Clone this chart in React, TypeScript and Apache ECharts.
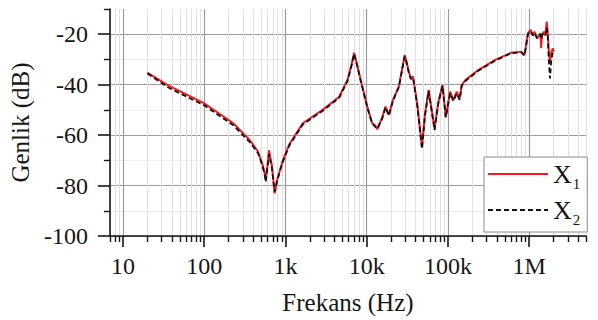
import React, { useEffect, useRef } from "react";
import * as echarts from "echarts";

const freqHz = [20, 35, 50, 100, 228, 364, 460, 520, 556, 571, 600, 627, 680, 736, 800, 929, 1120, 1230, 1633, 2864, 4581, 5794, 6500, 7000, 7600, 8433, 10160, 11690, 12600, 13490, 15500, 17020, 18750, 21000, 24830, 29380, 31000, 32890, 35000, 37150, 42000, 47860, 52000, 57810, 68390, 76000, 85700, 93970, 106200, 116700, 128200, 139300, 147600, 165000, 236000, 380000, 603000, 798000, 877000, 964000, 1038000, 1110000, 1160000, 1250000, 1330000, 1375000, 1400000, 1440000, 1510000, 1585000, 1640000, 1690000, 1740000, 1800000, 1860000, 1950000, 2010000];

const x1Db = [-35.2, -40.1, -42.6, -47.4, -55.3, -62, -66.6, -71.5, -75.2, -77.8, -72, -66, -72, -83.1, -77, -70, -63.5, -61.5, -55.3, -50, -44.8, -38.1, -32, -27.3, -32, -38.1, -48.7, -55.3, -56, -57.7, -53, -48.7, -52, -46, -40.8, -28.2, -31, -34.8, -37.5, -36.8, -48, -64.6, -52, -42.1, -57.3, -47, -40.1, -52.7, -42.8, -46.1, -42.8, -45.4, -40.1, -38.1, -34.2, -30.2, -27.3, -26.9, -28.2, -19.6, -18.3, -20.3, -19, -21.6, -20.5, -19.6, -25.5, -20, -19, -20.3, -15, -19, -26.2, -31.5, -27.5, -25.6, -26.9];

const x2Db = [-35.6, -40.9, -43.4, -48.2, -56.1, -62.8, -67.2, -72, -76, -78.5, -73, -67.5, -73, -82.5, -77.5, -70.5, -64, -62, -55.8, -50.4, -45.2, -38.6, -32.5, -27.8, -32.3, -38.5, -49, -55.5, -56.5, -57.5, -53.5, -49, -52.3, -46.5, -41, -28.8, -31.5, -35, -37.8, -37.2, -48.5, -65.5, -52.5, -42.5, -58, -47.5, -40.5, -53, -43.5, -46.5, -43.5, -46, -40.5, -38.5, -34.5, -30.5, -27.5, -27.2, -28.5, -20, -18.8, -20.5, -19.5, -21.5, -20.5, -20, -22, -20.5, -19.5, -20.5, -17.5, -21, -30, -37.5, -31, -27, -27.5];

const seriesNames = ["X1", "X2"];
const majorFreqs = [10, 100, 1000, 10000, 100000, 1000000];
const majorFreqLabels = ["10", "100", "1k", "10k", "100k", "1M"];
const minorFreqs = [7, 8, 9, 20, 30, 40, 50, 60, 70, 80, 90, 200, 300, 400, 500, 600, 700, 800, 900, 2000, 3000, 4000, 5000, 6000, 7000, 8000, 9000, 20000, 30000, 40000, 50000, 60000, 70000, 80000, 90000, 200000, 300000, 400000, 500000, 600000, 700000, 800000, 900000, 2000000, 3000000, 4000000, 5000000];
const majorDb = [-100, -80, -60, -40, -20];
const minorDb = [-90, -70, -50, -30];
const topDb = [-10];

const FONT = "'Liberation Serif', 'Times New Roman', serif";
const INK = "#161616";

export default function App() {
  const ref = useRef<HTMLDivElement>(null);
  useEffect(() => {
    if (!ref.current) return;
    const chart = echarts.init(ref.current, null, { renderer: "svg" });
    const xMin = 6.9;
    const xMax = 5000000;
    const yMin = -100;
    const yMax = -10;
    const labelMap: Record<string, string> = {};
    majorFreqs.forEach((f, i) => (labelMap[String(f)] = majorFreqLabels[i]));
    chart.setOption({
      animation: false,
      backgroundColor: "#ffffff",
      grid: { left: 105, right: 12, top: 9, bottom: 84, containLabel: false },
      legend: {
        data: seriesNames,
        orient: "vertical",
        left: 484,
        top: 157,
        backgroundColor: "#ffffff",
        borderColor: "#8a8a8a",
        borderWidth: 1,
        borderRadius: 0,
        padding: [4, 7, 5, 3],
        itemWidth: 60,
        itemHeight: 14,
        itemGap: 6,
        selectedMode: false,
        itemStyle: { opacity: 0 },
        formatter: (name: string) => `{x|${name.charAt(0)}}{s|${name.slice(1)}}`,
        textStyle: {
          fontFamily: FONT,
          color: INK,
          rich: {
            x: { fontFamily: FONT, fontSize: 26, lineHeight: 26, color: INK, verticalAlign: "top" },
            s: { fontFamily: FONT, fontSize: 15, lineHeight: 15, color: INK, verticalAlign: "top", padding: [15, 0, 0, 1] },
          },
        },
      },
      xAxis: [
        {
          type: "log",
          logBase: 10,
          min: xMin,
          max: xMax,
          position: "bottom",
          name: "Frekans (Hz)",
          nameLocation: "middle",
          nameGap: 54,
          nameTextStyle: { fontFamily: FONT, fontSize: 25, color: INK },
          axisLine: { show: true, onZero: false, lineStyle: { color: INK, width: 1.6 } },
          axisTick: { show: true, inside: false, length: 11, customValues: majorFreqs, lineStyle: { color: INK, width: 1.6 } },
          axisLabel: {
            show: true,
            customValues: majorFreqs,
            margin: 18,
            fontFamily: FONT,
            fontSize: 24,
            color: INK,
            formatter: (v: number) => labelMap[String(Math.round(v))] ?? "",
          },
          splitLine: { show: true, lineStyle: { color: "#9c9c9c", width: 1.2 } },
          minorTick: { show: false },
          minorSplitLine: { show: false },
        },
        {
          type: "log",
          logBase: 10,
          min: xMin,
          max: xMax,
          position: "bottom",
          axisLine: { show: false },
          axisTick: { show: true, inside: false, length: 6, customValues: minorFreqs, lineStyle: { color: INK, width: 1.4 } },
          axisLabel: { show: false },
          splitLine: { show: true, lineStyle: { color: "#e0e0e0", width: 1 } },
        },
      ],
      yAxis: [
        {
          type: "value",
          min: yMin,
          max: yMax,
          position: "left",
          name: "Genlik (dB)",
          nameLocation: "middle",
          nameRotate: 90,
          nameGap: 59,
          nameTextStyle: { fontFamily: FONT, fontSize: 25, color: INK },
          axisLine: { show: true, onZero: false, lineStyle: { color: INK, width: 1.6 } },
          axisTick: { show: true, inside: false, length: 12, customValues: majorDb, lineStyle: { color: INK, width: 1.6 } },
          axisLabel: { show: true, customValues: majorDb, margin: 22, fontFamily: FONT, fontSize: 24, color: INK },
          splitLine: { show: true, lineStyle: { color: "#9c9c9c", width: 1.2 } },
        },
        {
          type: "value",
          min: yMin,
          max: yMax,
          position: "left",
          axisLine: { show: false },
          axisTick: { show: true, inside: false, length: 6, customValues: minorDb, lineStyle: { color: INK, width: 1.4 } },
          axisLabel: { show: false },
          splitLine: { show: true, lineStyle: { color: "#efefef", width: 1 } },
        },
        {
          type: "value",
          min: yMin,
          max: yMax,
          position: "left",
          axisLine: { show: false },
          axisTick: { show: true, inside: false, length: 6, customValues: topDb, lineStyle: { color: INK, width: 1.4 } },
          axisLabel: { show: false },
          splitLine: { show: false },
        },
      ],
      series: [
        {
          name: seriesNames[0],
          type: "line",
          xAxisIndex: 0,
          yAxisIndex: 0,
          data: freqHz.map((f, i) => [f, x1Db[i]]),
          showSymbol: false,
          symbol: "none",
          lineStyle: { color: "#ee1c24", width: 2 },
          itemStyle: { color: "#ee1c24" },
          z: 3,
        },
        {
          name: seriesNames[1],
          type: "line",
          xAxisIndex: 0,
          yAxisIndex: 0,
          data: freqHz.map((f, i) => [f, x2Db[i]]),
          showSymbol: false,
          symbol: "none",
          lineStyle: { color: "#111111", width: 1.8, type: [5, 3] },
          itemStyle: { color: "#111111" },
          z: 4,
        },
      ],
    });
    return () => chart.dispose();
  }, []);
  return <div ref={ref} style={{ width: 598, height: 320, position: "absolute", left: 0, top: 0 }} />;
}
